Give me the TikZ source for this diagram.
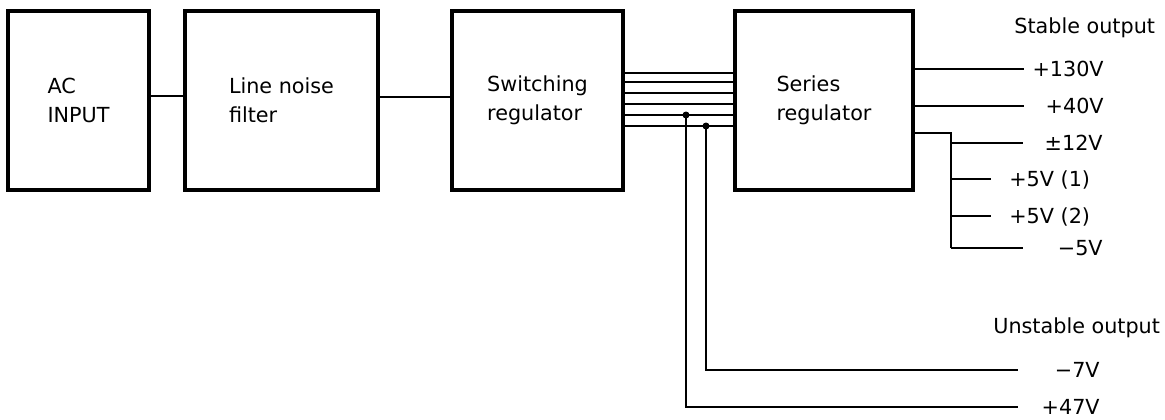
\documentclass[tikz,border=0pt]{standalone}
\usepackage{fontspec}
\setmainfont{DejaVu Sans}
\usetikzlibrary{positioning,calc}

\begin{document}
\begin{tikzpicture}[
    x=0.2mm, y=-0.2mm,
    box/.style={rectangle, draw, line width=2pt, align=left, inner sep=0pt, minimum height=35.8mm, font=\fontsize{11.8}{16.4}\selectfont},
    wire/.style={line width=1.1pt},
    lbl/.style={inner sep=0pt, font=\fontsize{11.8}{14}\selectfont},
    tap/.style={circle, fill, inner sep=0pt, minimum size=1.4mm}
]
    \useasboundingbox (0,0) rectangle (1165,419);

    % Main chain of blocks
    \node[box, minimum width=28.2mm] (ac) at (78.5,100.5) {AC\\INPUT};
    \node[box, minimum width=38.6mm] (filter) at (281.5,100.5) {Line noise\\filter};
    \node[box, minimum width=34.2mm] (switching) at (537.5,100.5) {Switching\\regulator};
    \node[box, minimum width=35.6mm] (series) at (824,100.5) {Series\\regulator};

    \draw[wire] (ac.east |- 0,96) -- (filter.west |- 0,96);
    \draw[wire] (filter.east |- 0,97) -- (switching.west |- 0,97);

    % Bus between the regulators
    \foreach \y in {73,82,93,104,115,126}
        \draw[wire] (switching.east |- 0,\y) -- (series.west |- 0,\y);

    % Stable output
    \node[lbl, anchor=west] (stable) at (1014,28) {Stable output};
    \coordinate (e130) at (1024,69);
    \coordinate (e40) at (1024,106);
    \coordinate (e12) at (1023,143);
    \coordinate (e5a) at (991,179);
    \coordinate (e5b) at (991,216);
    \coordinate (e5n) at (1023,248);
    \coordinate (hub) at (951,133);

    \draw[wire] (series.east |- e130) -- (e130);
    \draw[wire] (series.east |- e40) -- (e40);
    \draw[wire] (series.east |- hub) -- (hub) -- (hub |- e5n);
    \foreach \e in {e12,e5a,e5b,e5n}
        \draw[wire] (hub |- \e) -- (\e);

    \node[lbl, anchor=east] (v130) at (1104,69) {+130V};
    \node[lbl, anchor=east] (v40) at (1104,106) {+40V};
    \node[lbl, anchor=east] (v12) at (1103,143) {±12V};
    \node[lbl, anchor=west] (v5a) at (1009,180) {+5V (1)};
    \node[lbl, anchor=west] (v5b) at (1009,217) {+5V (2)};
    \node[lbl, anchor=east] (v5n) at (1103,248) {−5V};

    % Unstable output
    \node[lbl, anchor=west] (unstable) at (993,328) {Unstable output};
    \node[tap] (tap47) at (686,115) {};
    \node[tap] (tap7) at (706,126) {};
    \coordinate (e7) at (1018,370);
    \coordinate (e47) at (1018,407);

    \draw[wire] (tap7.center) |- (e7);
    \draw[wire] (tap47.center) |- (e47);

    \node[lbl, anchor=east] (v7) at (1100,370) {−7V};
    \node[lbl, anchor=east] (v47) at (1100,407) {+47V};
\end{tikzpicture}
\end{document}
